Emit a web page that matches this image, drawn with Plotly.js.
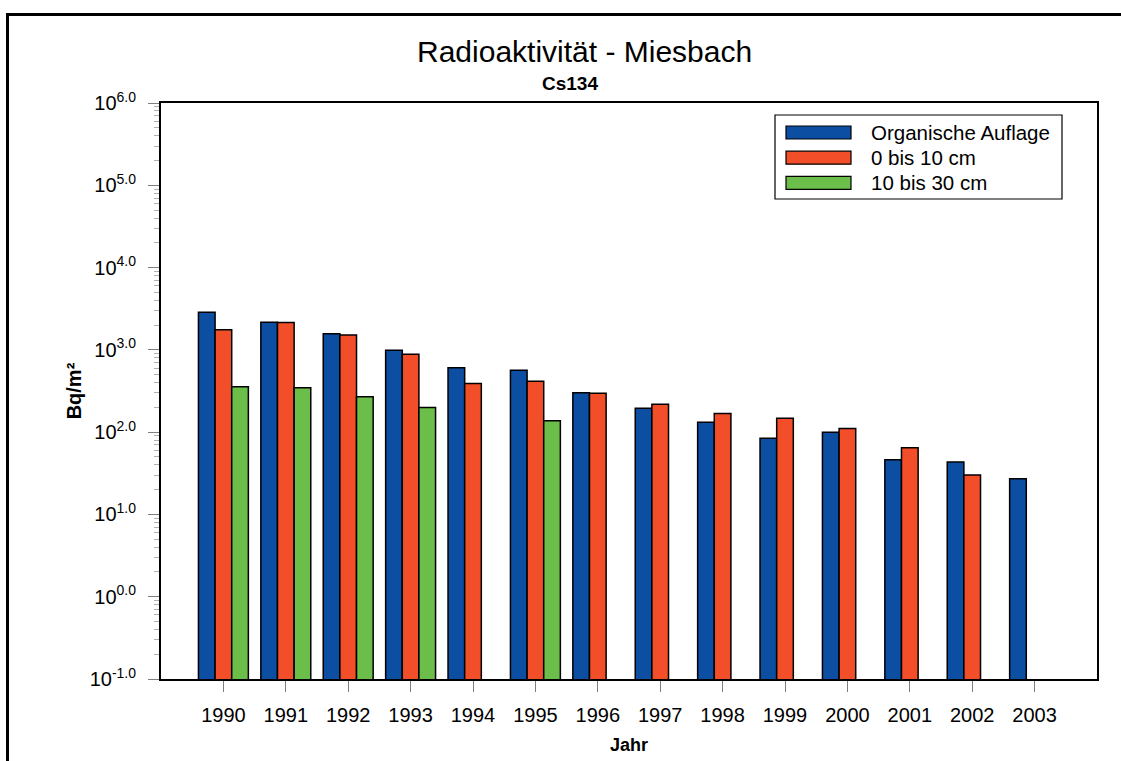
<!DOCTYPE html>
<html>
<head>
<meta charset="utf-8">
<script src="https://cdn.plot.ly/plotly-3.0.1.min.js"></script>
<style>
  html, body { margin: 0; padding: 0; background: #fff; overflow: hidden; }
  #chart { position: absolute; left: 0; top: 0; width: 1121px; height: 761px; }
  #frame { position: absolute; left: 6px; top: 13px; width: 1300px; height: 1000px;
           border-top: 3px solid #000; border-left: 3px solid #000; pointer-events: none; }
</style>
</head>
<body>
<div id="chart"></div>
<div id="frame"></div>
<script>
// ---- data ----
const years = ['1990','1991','1992','1993','1994','1995','1996','1997','1998','1999','2000','2001','2002','2003'];
const organischeAuflage = [2865, 2163, 1574, 989, 608, 565, 302, 195, 132, 84, 100, 46.3, 43.4, 27.2];
const cm0bis10 = [1758, 2143, 1517, 885, 389, 416, 297, 218, 168, 148, 111, 64.8, 30.2, null];
const cm10bis30 = [357, 347, 270, 199, null, 138, null, null, null, null, null, null, null, null];
const seriesNames = ['Organische Auflage', '0 bis 10 cm', '10 bis 30 cm'];
const seriesColors = ['#0B4EA2', '#F24E29', '#6CBE4B'];
const yTickExponents = [-1, 0, 1, 2, 3, 4, 5, 6];

const seriesValues = [organischeAuflage, cm0bis10, cm10bis30];

const traces = seriesValues.map((vals, i) => ({
  type: 'bar',
  x: years,
  y: vals,
  name: seriesNames[i],
  marker: { color: seriesColors[i], line: { color: '#000', width: 1.5 } },
  showlegend: false,
  hoverinfo: 'x+y+name'
}));

const yTickVals = yTickExponents.map(e => Math.pow(10, e));
const yTickText = yTickExponents.map(e => '10<sup>' + e.toFixed(1) + '</sup>');
const minorVals = [];
for (let e = -1; e < 6; e++) {
  for (let k = 2; k <= 9; k++) minorVals.push(k * Math.pow(10, e));
}

// pixel helpers for layout-only items (legend box, titles)
const L = 161, R = 1097, T = 103, B = 679;
const px = x => (x - L) / (R - L);
const py = y => (B - y) / (B - T);
const FONT = 'Liberation Sans, Arial, sans-serif';

const shapes = [];
const annotations = [];
// legend box
shapes.push({ type: 'rect', xref: 'paper', yref: 'paper', x0: px(775), x1: px(1062), y0: py(199), y1: py(115),
  line: { color: '#000', width: 1.2 }, fillcolor: '#fff', layer: 'above' });
seriesNames.forEach((n, i) => {
  const cy = 132.5 + i * 25.2;
  shapes.push({ type: 'rect', xref: 'paper', yref: 'paper', x0: px(786), x1: px(851), y0: py(cy + 6.5), y1: py(cy - 6.5),
    line: { color: '#000', width: 1.2 }, fillcolor: seriesColors[i], layer: 'above' });
  annotations.push({ xref: 'paper', yref: 'paper', x: px(869), y: py(cy), xanchor: 'left', yanchor: 'middle',
    text: n, showarrow: false, font: { family: FONT, size: 20.5, color: '#000' } });
});
// title and subtitle
annotations.push({ xref: 'paper', yref: 'paper', x: px(584), y: py(52), xanchor: 'center', yanchor: 'middle',
  text: 'Radioaktivität - Miesbach', showarrow: false,
  font: { family: FONT, size: 30, color: '#000' } });
annotations.push({ xref: 'paper', yref: 'paper', x: px(570), y: py(84), xanchor: 'center', yanchor: 'middle',
  text: '<b>Cs134</b>', showarrow: false,
  font: { family: FONT, size: 19, color: '#000' } });

const layout = {
  width: 1121, height: 761,
  margin: { l: L, r: 1121 - R, t: T, b: 761 - B, pad: 0 },
  paper_bgcolor: '#fff', plot_bgcolor: '#fff',
  font: { family: FONT, color: '#000' },
  barmode: 'group', bargap: 0.2, bargroupgap: 0,
  xaxis: {
    type: 'category', range: [-1, 14],
    showline: true, linecolor: '#000', linewidth: 2, mirror: true,
    ticks: 'outside', ticklen: 11, tickcolor: '#808080', tickwidth: 1,
    tickfont: { size: 20 }, ticklabelstandoff: 6,
    showgrid: false, zeroline: false,
    title: { text: '<b>Jahr</b>', font: { size: 18 }, standoff: 13 }
  },
  yaxis: {
    type: 'log', range: [-1, 6],
    tickmode: 'array', tickvals: yTickVals, ticktext: yTickText,
    showline: true, linecolor: '#000', linewidth: 2, mirror: true,
    ticks: 'outside', ticklen: 11, tickcolor: '#808080', tickwidth: 1,
    tickfont: { size: 20 }, ticklabelstandoff: 8,
    minor: { tickmode: 'array', tickvals: minorVals, ticks: 'outside', ticklen: 5, tickcolor: '#b0b0b0', tickwidth: 1, showgrid: false },
    showgrid: false, zeroline: false,
    title: { text: '<b>Bq/m²</b>', font: { size: 20 }, standoff: 3 }
  },
  shapes: shapes,
  annotations: annotations
};

Plotly.newPlot('chart', traces, layout, { displayModeBar: false });
</script>
</body>
</html>
